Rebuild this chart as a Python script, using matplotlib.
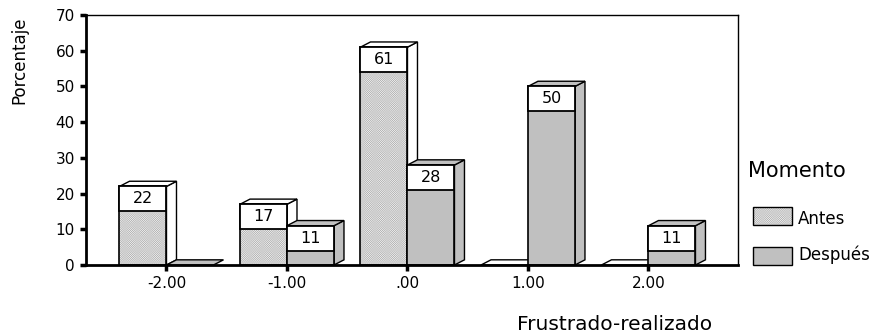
import matplotlib.pyplot as plt
from matplotlib.patches import Polygon, Rectangle

plt.rcParams['font.family'] = ['DejaVu Sans']
plt.rcParams['hatch.color'] = '#b4b4b4'
plt.rcParams['hatch.linewidth'] = 0.3

# porcentajes por momento
categorias = [-2.0, -1.0, 0.0, 1.0, 2.0]
etiquetas_x = ['-2.00', '-1.00', '.00', '1.00', '2.00']
antes = [22, 17, 61, 0, 0]
despues = [0, 11, 28, 50, 11]

W, H = 883, 335
fig = plt.figure(figsize=(W / 100, H / 100), dpi=100)
ax = fig.add_axes([86 / W, 70 / H, 652 / W, 250 / H])
ax.set_xlim(-2.668, 2.743)
ax.set_ylim(0, 70)

ancho = 0.39      # ancho de cada barra
dx, dy = 0.083, 1.45  # profundidad 3D
caja = 7.0        # alto de la caja de la etiqueta
GRIS = '#c0c0c0'
RAYA = '#b4b4b4'


def barra(x0, h, color, rayado):
    if h == 0:
        # barra vacia: solo la cara superior aplanada
        ax.add_patch(Polygon([(x0, 0), (x0 + ancho, 0), (x0 + ancho + dx, dy), (x0 + dx, dy)],
                             closed=True, fc=color, ec='black', lw=1))
        return
    ax.add_patch(Polygon([(x0 + ancho, 0), (x0 + ancho + dx, dy), (x0 + ancho + dx, h + dy), (x0 + ancho, h)],
                         closed=True, fc=color, ec='black', lw=1))
    ax.add_patch(Polygon([(x0, h), (x0 + dx, h + dy), (x0 + ancho + dx, h + dy), (x0 + ancho, h)],
                         closed=True, fc=color, ec='black', lw=1))
    if rayado:
        ax.add_patch(Rectangle((x0, 0), ancho, h, fc='white', ec=RAYA, lw=0, hatch='x' * 18))
        ax.add_patch(Rectangle((x0, 0), ancho, h, fill=False, ec='black', lw=1.2))
    else:
        ax.add_patch(Rectangle((x0, 0), ancho, h, fc=color, ec='black', lw=1.2))
    ax.add_patch(Rectangle((x0, h - caja), ancho, caja, fc='white', ec='black', lw=1.3))
    ax.text(x0 + ancho / 2, h - caja / 2, str(h), ha='center', va='center', fontsize=11.5)


for c, a, d in zip(categorias, antes, despues):
    barra(c - ancho, a, 'white', True)
    barra(c, d, GRIS, False)

ax.set_xticks(categorias, etiquetas_x)
ax.set_yticks(range(0, 71, 10))
ax.tick_params(direction='out', length=4, width=2.5, labelsize=11, pad=4)
for lado in ['left', 'bottom']:
    ax.spines[lado].set_linewidth(2)
for lado in ['top', 'right']:
    ax.spines[lado].set_linewidth(1)

fig.text(19 / W, 1 - 60 / H, 'Porcentaje', rotation=90, ha='center', va='center', fontsize=12)
fig.text(615 / W, 1 - 330 / H, 'Frustrado-realizado', ha='center', va='baseline', fontsize=14.5)

# leyenda
fig.text(748 / W, 1 - 177 / H, 'Momento', va='baseline', fontsize=15)
fig.add_artist(Rectangle((753 / W, 1 - 225 / H), 39 / W, 18 / H, transform=fig.transFigure,
                         fc='white', ec=RAYA, lw=0, hatch='x' * 18))
fig.add_artist(Rectangle((753 / W, 1 - 225 / H), 39 / W, 18 / H, transform=fig.transFigure,
                         fill=False, ec='black', lw=1))
fig.add_artist(Rectangle((753 / W, 1 - 265 / H), 39 / W, 18 / H, transform=fig.transFigure,
                         fc=GRIS, ec='black', lw=1))
fig.text(798 / W, 1 - 224 / H, 'Antes', va='baseline', fontsize=12)
fig.text(798 / W, 1 - 260 / H, 'Después', va='baseline', fontsize=12)

fig.savefig('out.png', dpi=100)
